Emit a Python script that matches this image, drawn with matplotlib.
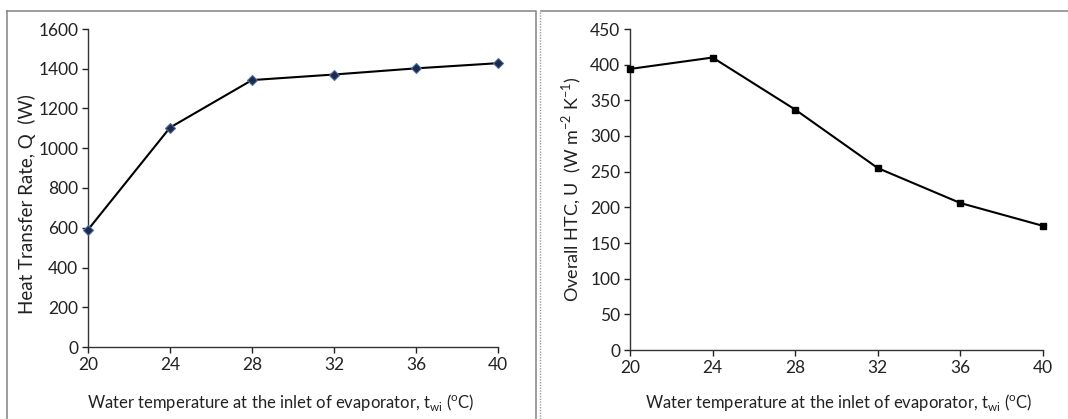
import matplotlib.pyplot as plt
from matplotlib.lines import Line2D

plt.rcParams['font.family'] = ['Lato', 'DejaVu Sans']

temps = [20, 24, 28, 32, 36, 40]
heat_rate = [590, 1104, 1343, 1371, 1402, 1428]
overall_htc = [394, 410, 337, 255, 206, 174]

W, H = 1068, 419
fig = plt.figure(figsize=(W / 100, H / 100), dpi=100)


def box(x0, y0, x1, y1, **kw):
    # rectangle outline in pixel coords (top-left origin)
    xs = [x0, x1, x1, x0, x0]
    ys = [y0, y0, y1, y1, y0]
    fig.add_artist(Line2D([x / W for x in xs], [1 - y / H for y in ys],
                          transform=fig.transFigure, **kw))


# panel frames
box(7, 11, 536, 425, color='#8c8c8c', lw=1.2)
fig.add_artist(Line2D([540 / W, 540 / W], [0, 1 - 11 / H], transform=fig.transFigure,
                      color='#9a9a9a', lw=1, ls=(0, (1, 1))))
fig.add_artist(Line2D([541 / W, 1.0], [1 - 11 / H, 1 - 11 / H], transform=fig.transFigure,
                      color='#8c8c8c', lw=1.2))

ax1 = fig.add_axes([88 / W, 1 - 347 / H, (498 - 88) / W, (347 - 29) / H])
ax2 = fig.add_axes([630 / W, 1 - 350 / H, (1043 - 630) / W, (350 - 29) / H])

ax1.plot(temps, heat_rate, color='black', lw=1.5, marker='D', ms=5,
         mfc='#1f2a4a', mec='#4a6fa5', mew=0.8, clip_on=False, zorder=3)
ax2.plot(temps, overall_htc, color='black', lw=1.5, marker='s', ms=5,
         mfc='black', mec='black', clip_on=False, zorder=3)

ax1.set_ylim(0, 1600)
ax1.set_yticks(range(0, 1601, 200))
ax2.set_ylim(0, 450)
ax2.set_yticks(range(0, 451, 50))

xlab = 'Water temperature at the inlet of evaporator, t$_{\\mathregular{wi}}$ ($^{\\mathregular{o}}$C)'
for ax in (ax1, ax2):
    ax.set_xlim(20, 40)
    ax.set_xticks(temps)
    for s in ('top', 'right'):
        ax.spines[s].set_visible(False)
    for s in ('left', 'bottom'):
        ax.spines[s].set_linewidth(1.0)
        ax.spines[s].set_color('#333333')
    ax.tick_params(axis='both', direction='out', length=4, width=1,
                   labelsize=12.5, colors='#222222', pad=3)
    ax.set_xlabel(xlab, fontsize=12, color='#222222', va='center')

ax1.set_ylabel('Heat Transfer Rate, Q  (W)', fontsize=13.5, color='#222222', va='center')
ax2.set_ylabel('Overall HTC, U  (W m$^{\\mathregular{-2}}$ K$^{\\mathregular{-1}}$)',
               fontsize=13, color='#222222', va='center')

ax1.xaxis.set_label_coords(0.47, -0.173)
ax2.xaxis.set_label_coords(0.505, -0.162)
ax1.yaxis.set_label_coords(-0.149, 0.45)
ax2.yaxis.set_label_coords(-0.140, 0.5)

fig.savefig('out.png', dpi=100)
